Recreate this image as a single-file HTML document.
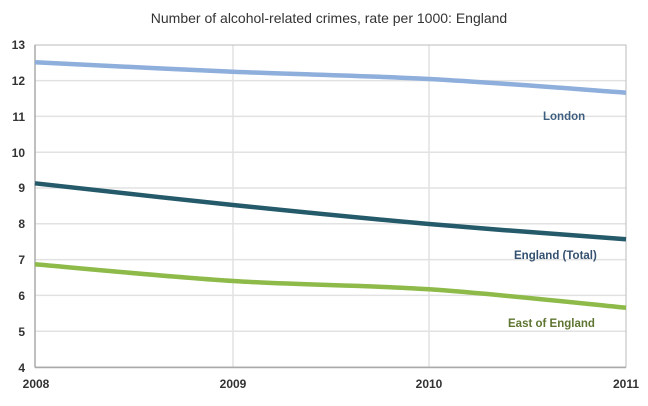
<!DOCTYPE html>
<html><head><meta charset="utf-8"><style>
html,body{margin:0;padding:0;background:#fff;}
svg{display:block;}
</style></head><body>
<svg width="648" height="406" viewBox="0 0 648 406" xmlns="http://www.w3.org/2000/svg" font-family="Liberation Sans, sans-serif">
<text x="329" y="23" text-anchor="middle" font-size="14" fill="#333">Number of alcohol-related crimes, rate per 1000: England</text>
<g stroke="#e2e2e2" stroke-width="1.5">
<line x1="35" y1="80.6" x2="626" y2="80.6"/>
<line x1="35" y1="116.4" x2="626" y2="116.4"/>
<line x1="35" y1="152.2" x2="626" y2="152.2"/>
<line x1="35" y1="188" x2="626" y2="188"/>
<line x1="35" y1="223.8" x2="626" y2="223.8"/>
<line x1="35" y1="259.6" x2="626" y2="259.6"/>
<line x1="35" y1="295.4" x2="626" y2="295.4"/>
<line x1="35" y1="331.2" x2="626" y2="331.2"/>
<line x1="233" y1="45" x2="233" y2="367"/>
<line x1="429" y1="45" x2="429" y2="367"/>
</g>
<rect x="35" y="45" width="591" height="322" fill="none" stroke="#bbb" stroke-width="1"/>
<line x1="35" y1="45" x2="35" y2="367.5" stroke="#aaa" stroke-width="1.5"/>
<line x1="35" y1="367.5" x2="626" y2="367.5" stroke="#aaa" stroke-width="1.5"/>
<g font-size="12" font-weight="bold" fill="#333" text-anchor="end">
<text x="25" y="49">13</text>
<text x="25" y="85">12</text>
<text x="25" y="121">11</text>
<text x="25" y="157">10</text>
<text x="25" y="192">9</text>
<text x="25" y="228">8</text>
<text x="25" y="264">7</text>
<text x="25" y="300">6</text>
<text x="25" y="336">5</text>
<text x="25" y="372">4</text>
</g>
<g font-size="12" font-weight="bold" fill="#333" text-anchor="middle">
<text x="36" y="388">2008</text>
<text x="233" y="388">2009</text>
<text x="429" y="388">2010</text>
<text x="626" y="388">2011</text>
</g>
<g fill="none" stroke-width="4.5" stroke-linecap="butt">
<path stroke="#8eaedb" d="M35,62.3 C68,63.9 167.3,68.9 233,71.7 C298.7,74.5 363.5,75.5 429,79 C494.5,82.5 593.2,90.4 626,92.7"/>
<path stroke="#245a6a" d="M35,183.3 C68,186.9 167.3,198.2 233,205 C298.7,211.8 363.5,218.3 429,224 C494.5,229.7 593.2,236.75 626,239.3"/>
<path stroke="#8dba48" d="M35,264.3 C68,267.1 167.3,276.8 233,281 C298.7,285.2 363.5,284.85 429,289.3 C494.5,293.75 593.2,304.6 626,307.7"/>
</g>
<g font-size="11.5" font-weight="bold">
<text x="543" y="120" fill="#3f5f80">London</text>
<text x="514" y="259" fill="#34506f">England (Total)</text>
<text x="508" y="327" fill="#5f7532">East of England</text>
</g>
</svg>
</body></html>
